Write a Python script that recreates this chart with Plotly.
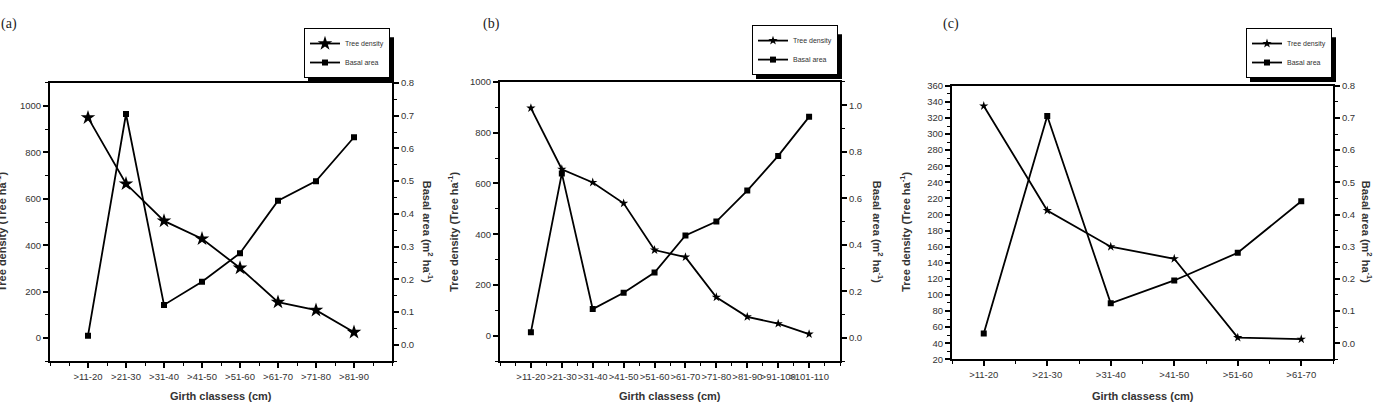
import plotly.graph_objects as go

W, H = 1383, 411

cats_a = [">11-20", ">21-30", ">31-40", ">41-50", ">51-60", ">61-70", ">71-80", ">81-90"]
density_a = [950, 665, 505, 428, 302, 155, 120, 25]
basal_a = [0.028, 0.705, 0.122, 0.193, 0.280, 0.440, 0.500, 0.634]

cats_b = [">11-20", ">21-30", ">31-40", ">41-50", ">51-60", ">61-70", ">71-80", ">81-90", ">91-100", ">101-110"]
density_b = [897, 656, 604, 522, 338, 310, 152, 75, 48, 7]
basal_b = [0.025, 0.707, 0.124, 0.194, 0.281, 0.440, 0.500, 0.633, 0.782, 0.950]

cats_c = [">11-20", ">21-30", ">31-40", ">41-50", ">51-60", ">61-70"]
density_c = [335, 205, 160, 145, 47, 45]
basal_c = [0.030, 0.706, 0.124, 0.195, 0.281, 0.441]

left_ticks_a = [0, 200, 400, 600, 800, 1000]
right_ticks_a = [0.0, 0.1, 0.2, 0.3, 0.4, 0.5, 0.6, 0.7, 0.8]
left_ticks_b = [0, 200, 400, 600, 800, 1000]
right_ticks_b = [0.0, 0.2, 0.4, 0.6, 0.8, 1.0]
left_ticks_c = list(range(20, 361, 20))
right_ticks_c = [0.0, 0.1, 0.2, 0.3, 0.4, 0.5, 0.6, 0.7, 0.8]

panels = [
    dict(cats=cats_a, dens=density_a, basal=basal_a, lt=left_ticks_a, rt=right_ticks_a,
         xdom=(50, 392), ydom=(79, 365), xr=(-1, len(cats_a)), xminor=0.5,
         lr=(-100, 1100), lminor=100, rr=(-0.05, 0.8), rminor=0.05,
         star=11, sq=6, label="(a)", labx=9, ltitx=1, rtitx=428,
         leg=(390, 74), legw=86, legh=46),
    dict(cats=cats_b, dens=density_b, basal=basal_b, lt=left_ticks_b, rt=right_ticks_b,
         xdom=(500, 840), ydom=(78, 365), xr=(-1, len(cats_b)), xminor=0.5,
         lr=(-100, 1000), lminor=100, rr=(-0.1, 1.1), rminor=0.1,
         star=7, sq=6, label="(b)", labx=491, ltitx=453, rtitx=878,
         leg=(838, 71), legw=86, legh=46),
    dict(cats=cats_c, dens=density_c, basal=basal_c, lt=left_ticks_c, rt=right_ticks_c,
         xdom=(952, 1333), ydom=(82, 363), xr=(-0.5, len(cats_c) - 0.5), xminor=0.5,
         lr=(20, 360), lminor=10, rr=(-0.05, 0.8), rminor=0.05,
         star=7, sq=6, label="(c)", labx=951, ltitx=905, rtitx=1367,
         leg=(1332, 74), legw=86, legh=46),
]

fig = go.Figure()
tickfont = dict(family="Liberation Sans, Arial, sans-serif", size=9.5, color="#333")
titlefont = dict(family="Liberation Sans, Arial, sans-serif", size=11, color="#333")
layout = {}
annotations = []
shapes = []

for i, p in enumerate(panels):
    n = i + 1
    xa, ya, yr_, xt = f"x{n}", f"y{n}", f"y{n+3}", f"x{n+3}"
    xs = list(range(len(p["cats"])))
    legname = "legend" if n == 1 else f"legend{n}"
    fig.add_trace(go.Scatter(x=xs, y=p["dens"], xaxis=xa, yaxis=ya, name="Tree density",
                             mode="lines+markers", legend=legname,
                             line=dict(color="black", width=1.8),
                             marker=dict(symbol="star", size=p["star"], color="black")))
    fig.add_trace(go.Scatter(x=xs, y=p["basal"], xaxis=xa, yaxis=yr_, name="Basal area",
                             mode="lines+markers", legend=legname,
                             line=dict(color="black", width=1.8),
                             marker=dict(symbol="square", size=p["sq"], color="black")))
    xd = [p["xdom"][0] / W, p["xdom"][1] / W]
    yd = [1 - p["ydom"][1] / H, 1 - p["ydom"][0] / H]
    sfx = "" if n == 1 else str(n)
    layout[f"xaxis{sfx}"] = dict(domain=xd, anchor=ya, range=list(p["xr"]),
                                 tickmode="array", tickvals=xs, ticktext=p["cats"], tickangle=0,
                                 ticks="outside", ticklen=5, tickwidth=1.5, tickcolor="black",
                                 minor=dict(tickmode="linear", tick0=0, dtick=p["xminor"],
                                            ticks="outside", ticklen=3, tickwidth=1.2, tickcolor="black"),
                                 showline=True, linewidth=2, linecolor="black", mirror=True,
                                 showgrid=False, zeroline=False, tickfont=tickfont)
    layout[f"xaxis{n+3}"] = dict(domain=xd, overlaying=xa, anchor=ya, side="top",
                                 range=list(p["xr"]), tickmode="array", tickvals=xs,
                                 showticklabels=False, ticks="inside", ticklen=5, tickwidth=1.5,
                                 tickcolor="black",
                                 minor=dict(tickmode="linear", tick0=0, dtick=p["xminor"],
                                            ticks="inside", ticklen=3, tickwidth=1.2, tickcolor="black"),
                                 showline=False, showgrid=False, zeroline=False)
    layout[f"yaxis{sfx}"] = dict(domain=yd, anchor=xa, range=list(p["lr"]),
                                 tickmode="array", tickvals=p["lt"],
                                 ticks="outside", ticklen=5, tickwidth=1.5, tickcolor="black",
                                 minor=dict(tickmode="linear", tick0=p["lr"][0], dtick=p["lminor"],
                                            ticks="outside", ticklen=3, tickwidth=1.2, tickcolor="black"),
                                 showline=True, linewidth=2, linecolor="black",
                                 showgrid=False, zeroline=False, tickfont=tickfont)
    layout[f"yaxis{n+3}"] = dict(domain=yd, anchor=xa, overlaying=ya, side="right",
                                 range=list(p["rr"]), tickmode="array", tickvals=p["rt"],
                                 tickformat=".1f",
                                 ticks="outside", ticklen=5, tickwidth=1.5, tickcolor="black",
                                 minor=dict(tickmode="linear", tick0=0, dtick=p["rminor"],
                                            ticks="outside", ticklen=3, tickwidth=1.2, tickcolor="black"),
                                 showline=True, linewidth=2, linecolor="black",
                                 showgrid=False, zeroline=False, tickfont=tickfont)
    # legend
    lx, ly = p["leg"]
    layout[legname] = dict(x=lx / W, y=1 - ly / H, xanchor="right", yanchor="bottom",
                           bgcolor="white", bordercolor="black", borderwidth=1,
                           font=dict(family="Liberation Sans, Arial, sans-serif", size=7, color="#333"),
                           tracegroupgap=0, itemwidth=30)
    # legend shadow
    shapes.append(dict(type="rect", xref="paper", yref="paper", layer="above",
                       x0=(lx - p["legw"] + 4) / W, x1=(lx + 4) / W,
                       y0=1 - (ly + 4) / H, y1=1 - (ly - p["legh"] + 4) / H,
                       fillcolor="black", line=dict(width=0)))
    # titles
    cx = (p["xdom"][0] + p["xdom"][1]) / 2
    annotations.append(dict(text="<b>Girth classess (cm)</b>", xref="paper", yref="paper",
                            x=cx / W, y=1 - 401 / H, showarrow=False, font=titlefont,
                            xanchor="center", yanchor="middle"))
    annotations.append(dict(text="<b>Tree density (Tree ha<sup>-1</sup>)</b>", xref="paper", yref="paper",
                            x=p["ltitx"] / W, y=1 - 232 / H, showarrow=False, font=titlefont,
                            textangle=-90, xanchor="center", yanchor="middle"))
    annotations.append(dict(text="<b>Basal area (m<sup>2</sup> ha<sup>-1</sup>)</b>", xref="paper", yref="paper",
                            x=p["rtitx"] / W, y=1 - 232 / H, showarrow=False, font=titlefont,
                            textangle=90, xanchor="center", yanchor="middle"))
    annotations.append(dict(text=p["label"], xref="paper", yref="paper",
                            x=p["labx"] / W, y=1 - 18 / H, showarrow=False,
                            font=dict(family="Liberation Serif, Times New Roman, serif", size=14, color="#222"),
                            xanchor="center", yanchor="middle"))

fig.update_layout(width=W, height=H, margin=dict(l=0, r=0, t=0, b=0),
                  paper_bgcolor="white", plot_bgcolor="white", showlegend=True,
                  annotations=annotations, shapes=shapes, **layout)

fig.write_html("out.html")
